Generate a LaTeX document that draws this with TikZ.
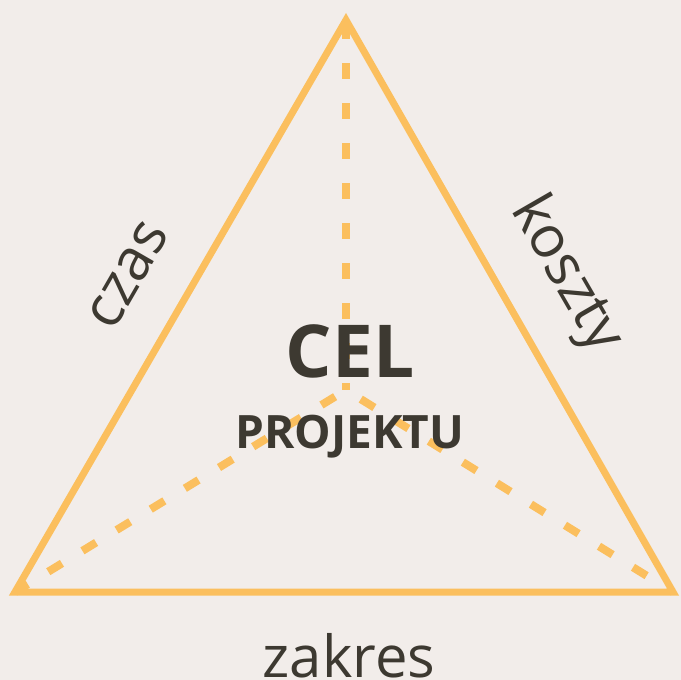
\documentclass[tikz,border=0pt]{standalone}
\usepackage{fontspec}
\setmainfont{Open Sans}
\usetikzlibrary{calc}

\definecolor{bgcream}{HTML}{F2EDEA}
\definecolor{goalorange}{HTML}{FBBF5E}
\definecolor{goaltext}{HTML}{3D3931}

\begin{document}
\begin{tikzpicture}[
    x=0.5pt, y=-0.5pt,
    edge/.style={draw=goalorange, line width=3.5pt, line join=miter},
    spoke/.style={draw=goalorange, line width=4pt, dash pattern=on 8pt off 12pt},
    sidelabel/.style={text=goaltext, font=\fontsize{29}{30}\selectfont, inner sep=0pt, anchor=base}
  ]

  % background {{{
  \fill[bgcream] (0,0) rectangle (681,680);
  \useasboundingbox (0,0) rectangle (681,680);
  % }}}

  % corners {{{
  \coordinate (apex) at (346,20);
  \coordinate (lcorner) at (15,592);
  \coordinate (rcorner) at (673,592);
  \coordinate (centre) at (346,390);
  % }}}

  % spokes {{{
  \draw[spoke, dash phase=18.5pt] (apex) -- (centre);
  \draw[spoke, dash phase=0.5pt] (lcorner) -- (centre);
  \draw[spoke, dash phase=4.5pt] (rcorner) -- (centre);
  % }}}

  % triangle {{{
  \draw[edge] (apex) -- (lcorner) -- (rcorner) -- cycle;
  % }}}

  % goal {{{
  \node[
    text=goaltext,
    font=\fontsize{36.5}{40}\selectfont\bfseries,
    inner sep=0pt,
    anchor=base
  ] (goal) at (350,377) {CEL};
  \node[
    text=goaltext,
    font=\fontsize{23}{26}\selectfont\bfseries,
    inner sep=0pt,
    anchor=base
  ] (project) at (350,448) {PROJEKTU};
  % }}}

  % sides {{{
  \node[sidelabel, rotate=60] (time) at (142,283) {czas};
  \node[sidelabel, rotate=-60] (cost) at (553,282.5) {koszty};
  \node[sidelabel] (scope) at (349,677) {zakres};
  % }}}

\end{tikzpicture}
\end{document}
